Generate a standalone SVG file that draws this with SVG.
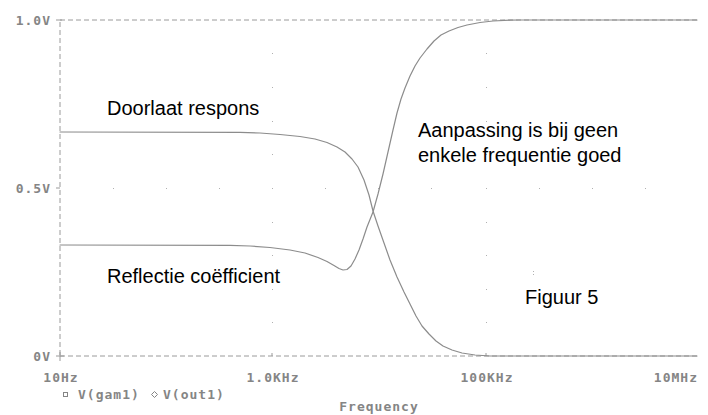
<svg xmlns="http://www.w3.org/2000/svg" width="708" height="415" viewBox="0 0 708 415">
<style>
.ax{stroke:#9a9a9a;stroke-width:1;fill:none;stroke-dasharray:5 3}
.tk{stroke:#9a9a9a;stroke-width:1;fill:none}
.cv{stroke:#8c8c8c;stroke-width:1.2;fill:none;stroke-linejoin:round;stroke-linecap:round}
.pl{font-family:"DejaVu Sans Mono","Liberation Mono",monospace;font-weight:bold;font-size:13px;letter-spacing:1px;fill:#858585}
.an{font-family:"Liberation Sans",Arial,sans-serif;font-size:20px;fill:#000}
.gd{fill:#b0b0b0}
</style>
<rect width="708" height="415" fill="#fff"/>
<g id="grid">
<g class="gd">
<rect x="272" y="53" width="1" height="1"/><rect x="272" y="87" width="1" height="1"/><rect x="272" y="121" width="1" height="1"/><rect x="272" y="154" width="1" height="1"/><rect x="272" y="222" width="1" height="1"/><rect x="272" y="255" width="1" height="1"/><rect x="272" y="289" width="1" height="1"/><rect x="272" y="322" width="1" height="1"/>
<rect x="486" y="53" width="1" height="1"/><rect x="486" y="87" width="1" height="1"/><rect x="486" y="121" width="1" height="1"/><rect x="486" y="154" width="1" height="1"/><rect x="486" y="222" width="1" height="1"/><rect x="486" y="255" width="1" height="1"/><rect x="486" y="289" width="1" height="1"/><rect x="486" y="322" width="1" height="1"/>
<rect x="113" y="188" width="1" height="1"/><rect x="166" y="188" width="1" height="1"/><rect x="219" y="188" width="1" height="1"/><rect x="272" y="188" width="1" height="1"/><rect x="325" y="188" width="1" height="1"/><rect x="378" y="188" width="1" height="1"/><rect x="431" y="188" width="1" height="1"/><rect x="486" y="188" width="1" height="1"/><rect x="539" y="188" width="1" height="1"/><rect x="592" y="188" width="1" height="1"/><rect x="645" y="188" width="1" height="1"/>
<rect x="533" y="271" width="1" height="1"/><rect x="533" y="274" width="1" height="1"/>
</g>
</g>
<g id="axes">
<path class="ax" d="M60 20H697M60 356H697M60 22V356"/>
<path class="tk" d="M56 20H62M56 188H60M56 356H64M60 352V361M272 353V356M486 353V356"/>
</g>
<g id="curves">
<path id="out1" class="cv" d="M60 132L240 132.3L260 133L280 134.5L300 136.5L315 139L327 142.5L337 147L345 152L352 159L358 167L364 180L369 195L373 211L378 226L384 243L390 260L397 277L404 292L410 304L416 316L422 326L429 334L436 341L443 346L452 350L462 353L475 355L490 356L697 356"/>
<path id="gam1" class="cv" d="M60 245L230 245.3L250 246L270 247.5L290 250L305 253L318 257.5L327 261.5L334 265.5L339 268.5L343 270L347 269.5L351 266L355 259L359 250L363 239L367 227L373 212L378 194L383 174L388 152L393 130L397 113L401 99L405 88L410 76L415 66L420 58L427 49L434 41L441 35L449 31L458 27.5L467 25L480 22.5L493 21L510 20.2L520 20L697 20"/>
</g>
<g id="axis-labels">
<text class="pl" x="51" y="25" text-anchor="end">1.0V</text>
<text class="pl" x="51" y="193" text-anchor="end">0.5V</text>
<text class="pl" x="51" y="361" text-anchor="end">0V</text>
<text class="pl" x="61" y="382" text-anchor="middle">10Hz</text>
<text class="pl" x="273" y="382" text-anchor="middle">1.0KHz</text>
<text class="pl" x="487" y="382" text-anchor="middle">100KHz</text>
<text class="pl" x="698" y="382" text-anchor="end">10MHz</text>
<text class="pl" x="379" y="411" text-anchor="middle">Frequency</text>
</g>
<g id="legend">
<rect x="63.5" y="392.5" width="4" height="4" fill="none" stroke="#858585" stroke-width="1"/>
<text class="pl" x="78" y="399">V(gam1)</text>
<polygon points="154.5,391.5 157.5,394.5 154.5,397.5 151.5,394.5" fill="none" stroke="#858585" stroke-width="1"/>
<text class="pl" x="163" y="399">V(out1)</text>
</g>
<g id="annotations">
<text class="an" x="107" y="115">Doorlaat respons</text>
<text class="an" x="107" y="283">Reflectie coëfficient</text>
<text class="an" x="418" y="137">Aanpassing is bij geen</text>
<text class="an" x="418" y="162">enkele frequentie goed</text>
<text class="an" x="525" y="304">Figuur 5</text>
</g>
</svg>
